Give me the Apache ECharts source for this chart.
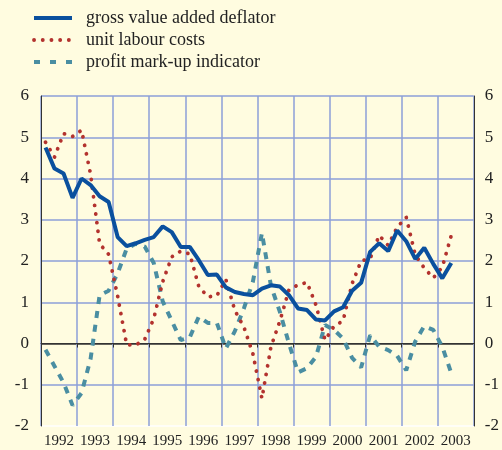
<!DOCTYPE html>
<html lang="en">
<head>
    <meta charset="UTF-8">
    <title>deflator chart</title>
    <script src="https://cdn.jsdelivr.net/npm/echarts@6/dist/echarts.min.js"></script>
    <style>
        body{margin:0;background:#fffce0}
    </style>
</head>
<body>
<div id="main" style="width: 502px;height: 450px;"></div>
<script>
    // quarterly data, 1992 Q1 .. 2003 Q2
    var years=['1992','1993','1994','1995','1996','1997','1998','1999','2000','2001','2002','2003']
    var yTicks=[-2,-1,0,1,2,3,4,5,6]
    var deflator=[4.75,4.24,4.12,3.53, 4.0,3.84,3.57,3.43, 2.58,2.36,2.43,2.51,
        2.58,2.84,2.70,2.34, 2.34,2.02,1.66,1.67, 1.36,1.25,1.20,1.17,
        1.33,1.41,1.38,1.17, 0.85,0.81,0.58,0.56, 0.78,0.88,1.28,1.47,
        2.22,2.43,2.24,2.74, 2.48,2.05,2.32,1.93, 1.58,1.95]
    var labourCosts=[4.88,4.52,5.09,5.02, 5.17,4.1,2.42,2.16, 1.15,-0.03,-0.04,0.1,
        0.6,1.5,2.1,2.24, 2.17,1.38,1.13,1.16, 1.55,0.8,0.4,-0.25,
        -1.33,-0.08,0.55,1.3, 1.42,1.48,0.93,0.08, 0.42,0.55,1.45,2.0,
        2.06,2.62,2.38,2.82, 3.06,2.15,1.83,1.59, 1.85,2.62]
    var markUp=[-0.15,-0.55,-0.95,-1.5, -1.2,-0.37,1.17,1.28, 1.7,2.3,2.42,2.35,
        1.95,1.02,0.55,0.08, 0.15,0.65,0.5,0.5, -0.12,0.3,0.85,1.5,
        2.68,1.4,0.76,0.0, -0.7,-0.6,-0.32,0.45, 0.33,0.12,-0.35,-0.58,
        0.2,-0.08,-0.16,-0.3, -0.65,0.05,0.42,0.33, -0.08,-0.72]

    function toPoints(arr){
        return arr.map(function (v,i) {
            return [Number(years[0])+(i+0.5)/4,v]
        })
    }

    var gridBlue='#8c9fd8'
    var serif='"Liberation Serif","DejaVu Serif",serif'
    var blueStyle={color:'#0a509e',width:4}
    var redStyle={color:'#b3322e',width:3.8,type:[0.1,8.6],cap:'round'}
    var tealStyle={color:'#4a8ea2',width:4,type:[6,10]}
    var mChart=echarts.init(document.getElementById('main'))
    var option={
        backgroundColor:'#fffce0',
        animation:false,
        legend:{
            orient:'vertical',
            left:27,
            top:4,
            itemWidth:38,
            itemHeight:14,
            itemGap:4,
            itemStyle:{opacity:0},
            textStyle:{fontFamily:serif,fontSize:18,color:'#222',padding:[0,0,0,9]},
            data:[
                {name:'gross value added deflator',lineStyle:blueStyle},
                {name:'unit labour costs',lineStyle:redStyle},
                {name:'profit mark-up indicator',lineStyle:tealStyle}
            ]
        },
        grid:{left:41,right:28,top:96,height:330},
        xAxis:[
            {
                type:'value',
                min:1992,max:2004,interval:1,
                axisLabel:{show:false},
                axisTick:{show:false},
                axisLine:{show:false},
                splitLine:{show:true,lineStyle:{color:gridBlue,width:1.5}}
            },
            {
                type:'category',
                data:years,
                position:'bottom',
                boundaryGap:true,
                offset:3,
                axisLine:{lineStyle:{color:'#333',width:1}},
                axisTick:{show:true,length:4,lineStyle:{color:'#333'}},
                axisLabel:{interval:0,fontFamily:serif,fontSize:15,color:'#222',margin:5},
                splitLine:{show:false}
            }
        ],
        yAxis:[
            {
                type:'value',
                min:-2,max:6,interval:1,
                position:'left',
                axisLine:{show:true,lineStyle:{color:'#333',width:1}},
                axisTick:{show:false},
                axisLabel:{fontFamily:serif,fontSize:17,color:'#222',margin:12},
                splitLine:{
                    show:true,
                    // -2 white, 0 black, rest blue
                    lineStyle:{color:yTicks.map(function (t) {
                        return t===-2?'#ffffff':(t===0?'#333333':gridBlue)
                    }),width:1.5}
                }
            },
            {
                type:'value',
                min:-2,max:6,interval:1,
                position:'right',
                axisLine:{show:true,lineStyle:{color:'#333',width:1}},
                axisTick:{show:false},
                axisLabel:{fontFamily:serif,fontSize:17,color:'#222',margin:11},
                splitLine:{show:false}
            }
        ],
        series:[
            {
                name:'gross value added deflator',
                type:'line',
                xAxisIndex:0,
                symbol:'none',
                color:'#0a509e',
                lineStyle:blueStyle,
                data:toPoints(deflator),
                z:4
            },
            {
                name:'unit labour costs',
                type:'line',
                xAxisIndex:0,
                symbol:'none',
                color:'#b3322e',
                lineStyle:redStyle,
                data:toPoints(labourCosts),
                z:3
            },
            {
                name:'profit mark-up indicator',
                type:'line',
                xAxisIndex:0,
                symbol:'none',
                color:'#4a8ea2',
                lineStyle:{color:'#4a8ea2',width:4,type:[7,7]},
                data:toPoints(markUp),
                z:2
            }
        ]
    }
    mChart.setOption(option)
</script>
</body>
</html>
